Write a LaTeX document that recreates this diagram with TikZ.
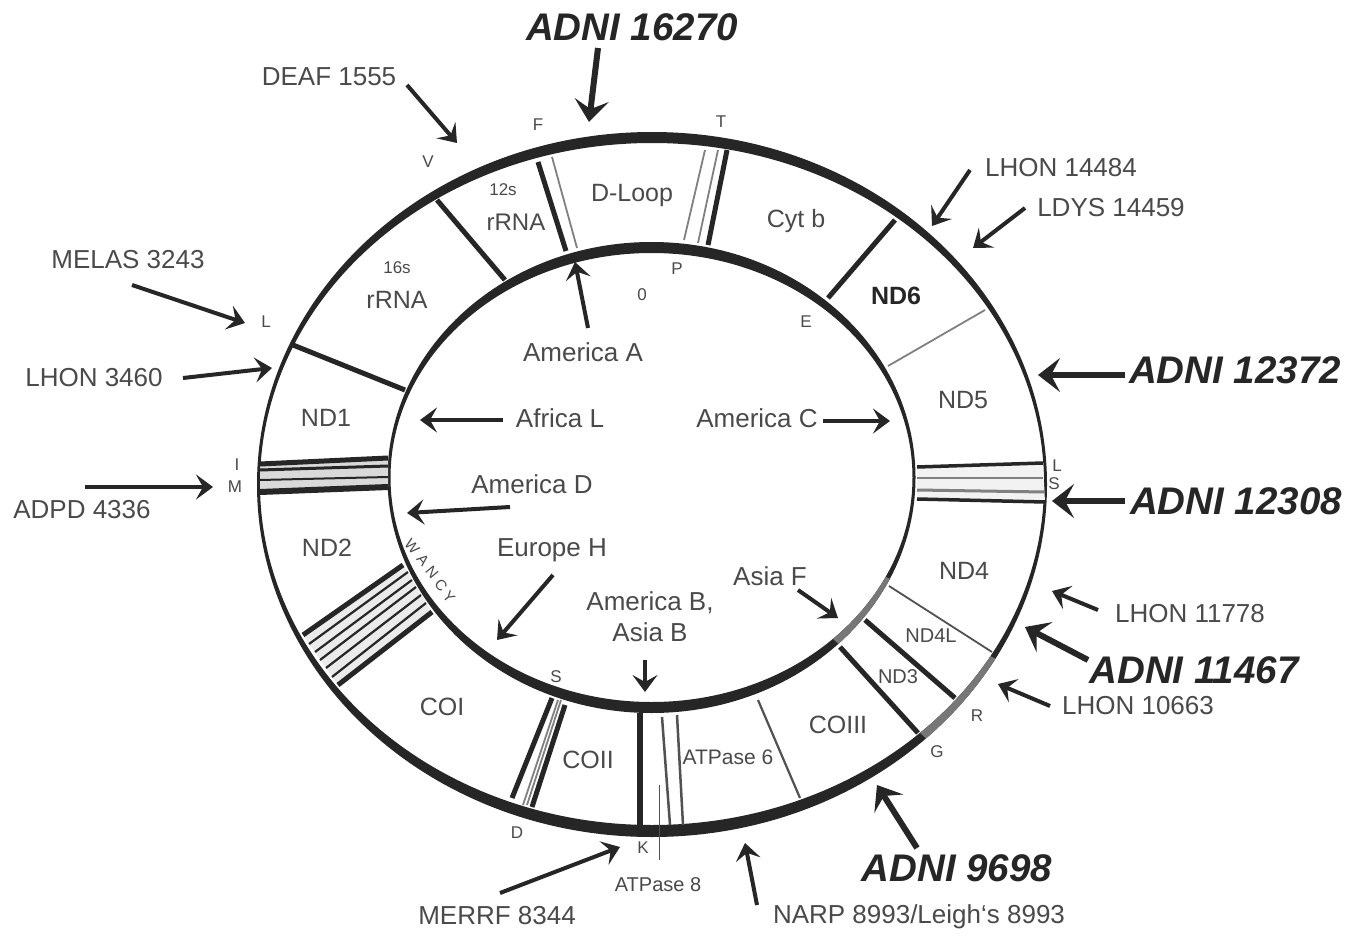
\documentclass[tikz,border=0pt]{standalone}
\usepackage{fontspec}
\setmainfont{Liberation Sans}
\usetikzlibrary{arrows.meta}
\definecolor{ink}{HTML}{262626}
\definecolor{txt}{HTML}{4A4A4A}
\definecolor{fade}{HTML}{777777}
\tikzset{
  lab/.style={font=\fontsize{26}{30}\selectfont,text=txt,inner sep=0pt,align=center},
  inlab/.style={font=\fontsize{26}{31}\selectfont,text=txt,inner sep=0pt,align=center},
  adni/.style={font=\fontsize{38.5}{42}\selectfont\bfseries\itshape,text=ink,inner sep=0pt},
  gene/.style={font=\fontsize{25}{29}\selectfont,text=txt,inner sep=0pt,align=center},
  sgene/.style={font=\fontsize{20}{23}\selectfont,text=txt,inner sep=0pt},
  ltr/.style={font=\fontsize{17}{19}\selectfont,text=txt,inner sep=0pt},
  wltr/.style={font=\fontsize{15}{17}\selectfont,text=txt,inner sep=0pt,rotate=-50},
  arr/.style={draw=ink,line width=4pt,-{Stealth[length=17pt,width=25pt,inset=7pt]}},
  barr/.style={draw=ink,line width=6pt,-{Stealth[length=22pt,width=34pt,inset=9pt]}},
  thick tick/.style={draw=ink,line width=5pt},
  thin tick/.style={draw=ink!80,line width=1.8pt},
  outer ring/.style={even odd rule},
}
\begin{document}
\begin{tikzpicture}[x=1pt,y=-1pt]
\useasboundingbox[fill=white] (0,0) rectangle (1358,934);
% rings
\fill[ink,even odd rule] (652,484.5) ellipse [x radius=395pt,y radius=352.5pt]
                         (652,484) ellipse [x radius=392pt,y radius=341pt];
\fill[ink,even odd rule] (651.5,477.5) ellipse [x radius=264pt,y radius=235.5pt]
                         (651.5,477.5) ellipse [x radius=261pt,y radius=224.5pt];
% faded ring segments
\begin{scope}
\clip (652,484) -- (1061,692) -- (974,783) -- cycle;
\fill[fade,even odd rule] (652,484.5) ellipse [x radius=395pt,y radius=352.5pt]
                         (652,484) ellipse [x radius=392pt,y radius=341pt];
\end{scope}
\begin{scope}
\clip (651,477) -- (940,600) -- (878,679) -- cycle;
\fill[fade,even odd rule] (651.5,477.5) ellipse [x radius=264pt,y radius=235.5pt]
                         (651.5,477.5) ellipse [x radius=261pt,y radius=224.5pt];
\end{scope}
% tick marks
\draw[thick tick] (293,345) -- (405,390);
\draw[thick tick] (437,200) -- (505,280);
\draw[thick tick] (538,162) -- (566,251);
\draw[thin tick,gray] (552,157) -- (577,248);
\draw[thin tick,gray] (705,150) -- (684,240);
\draw[thin tick,gray] (718,150) -- (698,243);
\draw[thick tick] (727,150) -- (708,245);
\draw[thick tick] (895,220) -- (828,298);
\draw[thin tick,gray] (985,310) -- (888,366);
% L/S band
\fill[black!5] (917,467) -- (1043,463) -- (1045,502) -- (917,499) -- cycle;
\draw[thick tick,line width=3.5pt] (917,467) -- (1043,463);
\draw[thin tick,gray] (917,478) -- (1043,478);
\draw[thin tick,gray,line width=3pt] (917,490) -- (1045,492);
\draw[thick tick,line width=3.5pt] (917,499) -- (1045,502);
\draw[thin tick] (889,586) -- (992,652);
\draw[thick tick] (865,620) -- (955,698);
\draw[thick tick] (840,647) -- (918,733);
\draw[thin tick,line width=2.2pt] (758,700) -- (800,798);
\draw[thin tick,line width=2.5pt] (677,715) -- (683,825);
\draw[thin tick,line width=2.5pt] (662,717) -- (670,825);
\draw[thick tick,line width=6pt] (640,713) -- (640,825);
\draw[thin tick,line width=1pt] (659,785) -- (659,860);
\draw[thick tick] (552,698) -- (512,798);
\draw[thin tick,gray] (558,700) -- (523,805);
\draw[thin tick,gray] (561,700) -- (527,805);
\draw[thick tick] (565,705) -- (532,807);
% W A N C Y band
\fill[black!8] (403,565) -- (432,612) -- (338,685) -- (303,635) -- cycle;
\draw[thick tick] (403,565) -- (303,635);
\draw[thin tick,line width=2.2pt,draw=ink] (408,572) -- (309,644);
\draw[thin tick,line width=2.2pt,draw=ink] (412,580) -- (315,652);
\draw[thin tick,line width=2.2pt,draw=ink] (416,587) -- (320,660);
\draw[thin tick,line width=2.2pt,draw=ink] (421,595) -- (326,668);
\draw[thin tick,line width=2.2pt,draw=ink] (426,603) -- (332,677);
\draw[thick tick] (432,612) -- (338,685);
% I M band
\fill[black!15] (260,464) -- (388,458) -- (388,487) -- (260,492) -- cycle;
\draw[thick tick,line width=5pt] (260,464) -- (388,458);
\draw[thick tick,line width=3pt] (260,470) -- (388,466);
\draw[thick tick,line width=2pt] (260,480) -- (388,477);
\draw[thick tick,line width=6pt] (260,492) -- (388,487);
% gene labels
\node[gene] (dloop) at (632,195) {D-Loop};
\node[gene] (cytb) at (796,221) {Cyt b};
\node[gene,text=ink] (nd6) at (896,296) {\bfseries ND6};
\node[gene] (nd5) at (963,400) {ND5};
\node[gene] (nd4) at (964,571) {ND4};
\node[sgene] (nd4l) at (931,636) {ND4L};
\node[sgene] (nd3) at (898,677) {ND3};
\node[gene] (coiii) at (838,725) {COIII};
\node[sgene,font=\fontsize{21}{24}\selectfont] (atp6) at (728,757) {ATPase 6};
\node[gene] (coii) at (588,760) {COII};
\node[gene] (coi) at (442,707) {COI};
\node[gene] (nd2) at (327,548) {ND2};
\node[gene] (nd1) at (326,418) {ND1};
\node[ltr] (s16) at (397,268) {16s};
\node[gene] (r16) at (397,300) {rRNA};
\node[ltr] (s12) at (503,190) {12s};
\node[gene,font=\fontsize{24}{27}\selectfont] (r12) at (516,222) {rRNA};
\node[sgene] (atp8) at (658,885) {ATPase 8};
% single letters
\node[ltr] (lV) at (428,162) {V};
\node[ltr] (lF) at (538,125) {F};
\node[ltr] (lT) at (721,122) {T};
\node[ltr] (lP) at (677,269) {P};
\node[ltr] (l0) at (642,295) {0};
\node[ltr] (lE) at (806,322) {E};
\node[ltr] (lL) at (266,322) {L};
\node[ltr] (lI) at (237,465) {I};
\node[ltr] (lM) at (235,487) {M};
\node[ltr] (lL2) at (1057,466) {L};
\node[ltr] (lS2) at (1054,484) {S};
\node[ltr] (lR) at (977,716) {R};
\node[ltr] (lG) at (937,752) {G};
\node[ltr] (lS) at (556,677) {S};
\node[ltr] (lD) at (517,833) {D};
\node[ltr] (lK) at (643,848) {K};
\node[wltr] (lW) at (412,547) {W};
\node[wltr] (lA) at (423,560) {A};
\node[wltr] (lN) at (432,572) {N};
\node[wltr] (lC) at (441,585) {C};
\node[wltr] (lY) at (449,597) {Y};
% arrow labels
\node[adni] (a16270) at (632,27) {ADNI 16270};
\node[adni] (a12372) at (1235,370) {ADNI 12372};
\node[adni] (a12308) at (1236,501) {ADNI 12308};
\node[adni] (a11467) at (1194,670) {ADNI 11467};
\node[adni] (a9698) at (957,868) {ADNI 9698};
\node[lab] (deaf) at (329,77) {DEAF 1555};
\node[lab] (l14484) at (1061,168) {LHON 14484};
\node[lab] (ldys) at (1111,208) {LDYS 14459};
\node[lab] (l11778) at (1190,614) {LHON 11778};
\node[lab] (l10663) at (1138,706) {LHON 10663};
\node[lab] (narp) at (919,917) {NARP 8993/Leigh`s 8993};
\node[lab] (merrf) at (497,916) {MERRF 8344};
\node[lab] (adpd) at (82,510) {ADPD 4336};
\node[lab] (l3460) at (94,378) {LHON 3460};
\node[lab] (melas) at (128,260) {MELAS 3243};
\node[inlab] (amA) at (583,352) {America A};
\node[inlab] (afL) at (560,418) {Africa L};
\node[inlab] (amC) at (757,418) {America C};
\node[inlab] (amD) at (532,484) {America D};
\node[inlab] (euH) at (552,550) {Europe H};
\node[inlab] (amB) at (650,617) {America B,\\Asia B};
\node[inlab] (asF) at (770,576) {Asia F};
% arrow tips
\coordinate (t16270) at (589,122);
\coordinate (t12372) at (1038,375);
\coordinate (t12308) at (1052,501);
\coordinate (t11467) at (1025,627);
\coordinate (t9698) at (877,785);
\coordinate (tdeaf) at (457,143);
\coordinate (t14484) at (932,226);
\coordinate (tldys) at (973,248);
\coordinate (t11778) at (1052,591);
\coordinate (t10663) at (998,684);
\coordinate (tnarp) at (745,843);
\coordinate (tmerrf) at (620,847);
\coordinate (tadpd) at (213,487);
\coordinate (t3460) at (272,368);
\coordinate (tmelas) at (245,323);
\coordinate (tamA) at (575,262);
\coordinate (tafL) at (420,420);
\coordinate (tamC) at (890,421);
\coordinate (tamD) at (407,513);
\coordinate (teuH) at (497,640);
\coordinate (tamB) at (645,692);
\coordinate (tasF) at (838,618);
% arrows
\draw[barr] ([shift={(-34,21)}]a16270.center) -- (t16270);
\draw[barr] ([shift={(-110,5)}]a12372.center) -- (t12372);
\draw[barr] ([shift={(-111,0)}]a12308.center) -- (t12308);
\draw[barr] ([shift={(-106,-10)}]a11467.center) -- (t11467);
\draw[barr] ([shift={(-40,-20)}]a9698.center) -- (t9698);
\draw[arr] ([shift={(78,8)}]deaf.center) -- (tdeaf);
\draw[arr] ([shift={(-91,2)}]l14484.center) -- (t14484);
\draw[arr] ([shift={(-86,0)}]ldys.center) -- (tldys);
\draw[arr] ([shift={(-92,-4)}]l11778.center) -- (t11778);
\draw[arr] ([shift={(-88,0)}]l10663.center) -- (t10663);
\draw[arr] ([shift={(-162,-12)}]narp.center) -- (tnarp);
\draw[arr] ([shift={(3,-23)}]merrf.center) -- (tmerrf);
\draw[arr] ([shift={(3,-23)}]adpd.center) -- (tadpd);
\draw[arr] ([shift={(89,0)}]l3460.center) -- (t3460);
\draw[arr] ([shift={(4,25)}]melas.center) -- (tmelas);
\draw[arr] ([shift={(5,-24)}]amA.center) -- (tamA);
\draw[arr] ([shift={(-57,2)}]afL.center) -- (tafL);
\draw[arr] ([shift={(66,3)}]amC.center) -- (tamC);
\draw[arr] ([shift={(-22,23)}]amD.center) -- (tamD);
\draw[arr] ([shift={(1,25)}]euH.center) -- (teuH);
\draw[arr] ([shift={(-5,43)}]amB.center) -- (tamB);
\draw[arr] ([shift={(28,14)}]asF.center) -- (tasF);
\end{tikzpicture}
\end{document}
